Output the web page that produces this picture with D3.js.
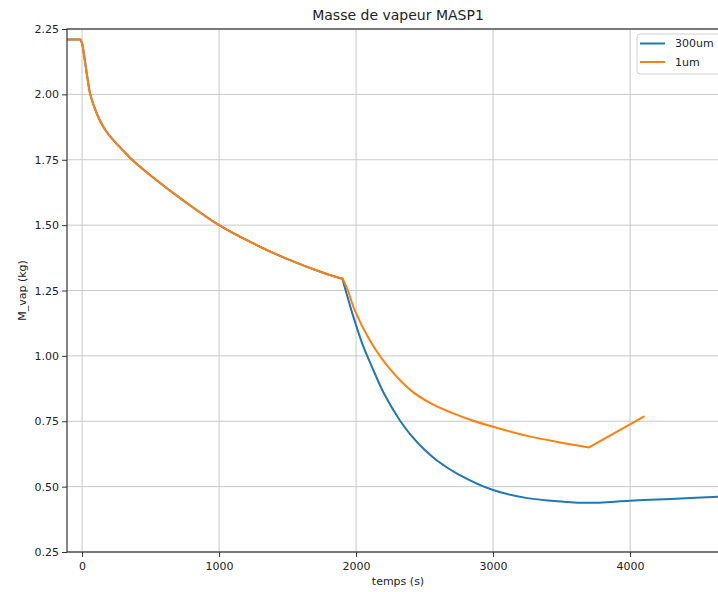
<!DOCTYPE html>
<html><head><meta charset="utf-8">
<script src="https://cdn.jsdelivr.net/npm/d3@7"></script>
<style>
body{margin:0;background:#fff;}
svg{display:block;font-family:"DejaVu Sans",sans-serif;}
</style></head><body>
<svg id="c" width="718" height="592"></svg>
<script>
const title = "Masse de vapeur MASP1";
const xLabel = "temps (s)";
const yLabel = "M_vap (kg)";
const xTicks = [0, 1000, 2000, 3000, 4000];
const yTicks = [0.25, 0.50, 0.75, 1.00, 1.25, 1.50, 1.75, 2.00, 2.25];
const seriesNames = ["300um", "1um"];
const seriesColors = ["#1f77b4", "#ff7f0e"];

// shared part of both runs (identical until the split at ~1900 s)
const common_t = [-110, -12, 0, 20, 40, 60, 90, 130, 175, 220, 300, 375, 500, 750, 1000, 1250, 1500, 1750, 1900];
const common_m = [2.21, 2.21, 2.195, 2.13, 2.06, 2.00, 1.95, 1.90, 1.86, 1.83, 1.785, 1.745, 1.69, 1.59, 1.50, 1.43, 1.37, 1.32, 1.295];

// 300um after the split
const t300 = [1900, 1980, 2050, 2126, 2200, 2320, 2400, 2500, 2600, 2750, 3000, 3250, 3500, 3700, 4000, 4300, 4650, 4800];
const m300 = [1.295, 1.15, 1.04, 0.946, 0.86, 0.753, 0.697, 0.641, 0.596, 0.546, 0.487, 0.456, 0.443, 0.438, 0.446, 0.453, 0.461, 0.464];

// 1um after the split
const t1 = [1900, 1940, 1990, 2100, 2250, 2400, 2550, 2700, 2850, 3000, 3250, 3500, 3700, 4100];
const m1 = [1.298, 1.25, 1.175, 1.06, 0.948, 0.868, 0.817, 0.782, 0.753, 0.729, 0.694, 0.668, 0.65, 0.768];

const svg = d3.select("#c");
const L = 67, T = 29, R = 729, B = 552;
const x = d3.scaleLinear().domain([-110, 4722]).range([L, R]);
const y = d3.scaleLinear().domain([0.25, 2.25]).range([B, T]);

svg.append("defs").append("clipPath").attr("id","clip").append("rect")
  .attr("x", L).attr("y", T).attr("width", R-L).attr("height", B-T);

// grid
const g = svg.append("g");
g.selectAll(".vg").data(xTicks).enter().append("line")
  .attr("x1", d=>x(d)).attr("x2", d=>x(d)).attr("y1", T).attr("y2", B)
  .attr("stroke", "#c8c8c8").attr("stroke-width", 1);
g.selectAll(".hg").data(yTicks).enter().append("line")
  .attr("x1", L).attr("x2", R).attr("y1", d=>y(d)).attr("y2", d=>y(d))
  .attr("stroke", "#c8c8c8").attr("stroke-width", 1);

const pts = (ts, ms) => ts.map((t,i)=>[t, ms[i]]);
const smooth = d3.line().x(d=>x(d[0])).y(d=>y(d[1])).curve(d3.curveCatmullRom.alpha(0.5));
const straight = d3.line().x(d=>x(d[0])).y(d=>y(d[1]));
const C = pts(common_t, common_m);
const B3 = pts(t300, m300);
const O1 = pts(t1, m1);
const iMin = t1.indexOf(3700);

const segs = [
  {c:0, d: straight(C.slice(0,2)) + smooth(C.slice(1)).replace(/^M/,"L") + smooth(B3).replace(/^M/,"L")},
  {c:1, d: straight(C.slice(0,2)) + smooth(C.slice(1)).replace(/^M/,"L") + smooth(O1.slice(0, iMin+1)).replace(/^M/,"L") + straight(O1.slice(iMin)).replace(/^M/,"L")}
];
const plot = svg.append("g").attr("clip-path","url(#clip)");
segs.forEach(s=>{
  plot.append("path").attr("d", s.d).attr("fill","none")
    .attr("stroke", seriesColors[s.c]).attr("stroke-width", 2)
    .attr("stroke-linejoin","round").attr("stroke-linecap","round");
});

// axes
const xa = svg.append("g").attr("transform", `translate(0,${B})`)
  .call(d3.axisBottom(x).tickValues(xTicks).tickFormat(d3.format("d")).tickSize(5).tickSizeOuter(0));
const ya = svg.append("g").attr("transform", `translate(${L},0)`)
  .call(d3.axisLeft(y).tickValues(yTicks).tickFormat(d3.format(".2f")).tickSize(5).tickSizeOuter(0));
[xa, ya].forEach(a=>{
  a.select(".domain").remove();
  a.selectAll("text").attr("font-size", 11).attr("fill", "#222").attr("font-family","DejaVu Sans");
  a.selectAll("line").attr("stroke", "#333");
});
xa.selectAll("text").attr("dy", "0.95em");
svg.append("rect").attr("x", L).attr("y", T).attr("width", R-L).attr("height", B-T)
  .attr("fill","none").attr("stroke","#333").attr("stroke-width",1.2);

// title and labels
svg.append("text").attr("x", (L+R)/2).attr("y", 20).attr("text-anchor","middle")
  .attr("font-size", 14).attr("fill","#222").text(title);
svg.append("text").attr("x", (L+R)/2).attr("y", 585).attr("text-anchor","middle")
  .attr("font-size", 11).attr("fill","#222").text(xLabel);
svg.append("text").attr("transform", `translate(26,${(T+B)/2}) rotate(-90)`).attr("text-anchor","middle")
  .attr("font-size", 11).attr("fill","#222").text(yLabel);

// legend
const lg = svg.append("g");
lg.append("rect").attr("x", 637).attr("y", 34).attr("width", 85).attr("height", 40).attr("rx", 3)
  .attr("fill", "#fff").attr("fill-opacity", 0.85).attr("stroke", "#d0d0d0");
seriesNames.forEach((n,i)=>{
  const yy = 43.5 + i*18.5;
  lg.append("line").attr("x1", 640).attr("x2", 665).attr("y1", yy).attr("y2", yy)
    .attr("stroke", seriesColors[i]).attr("stroke-width", 2);
  lg.append("text").attr("x", 675).attr("y", yy).attr("dy","0.35em").attr("font-size", 11)
    .attr("fill","#222").text(n);
});
</script>
</body></html>
